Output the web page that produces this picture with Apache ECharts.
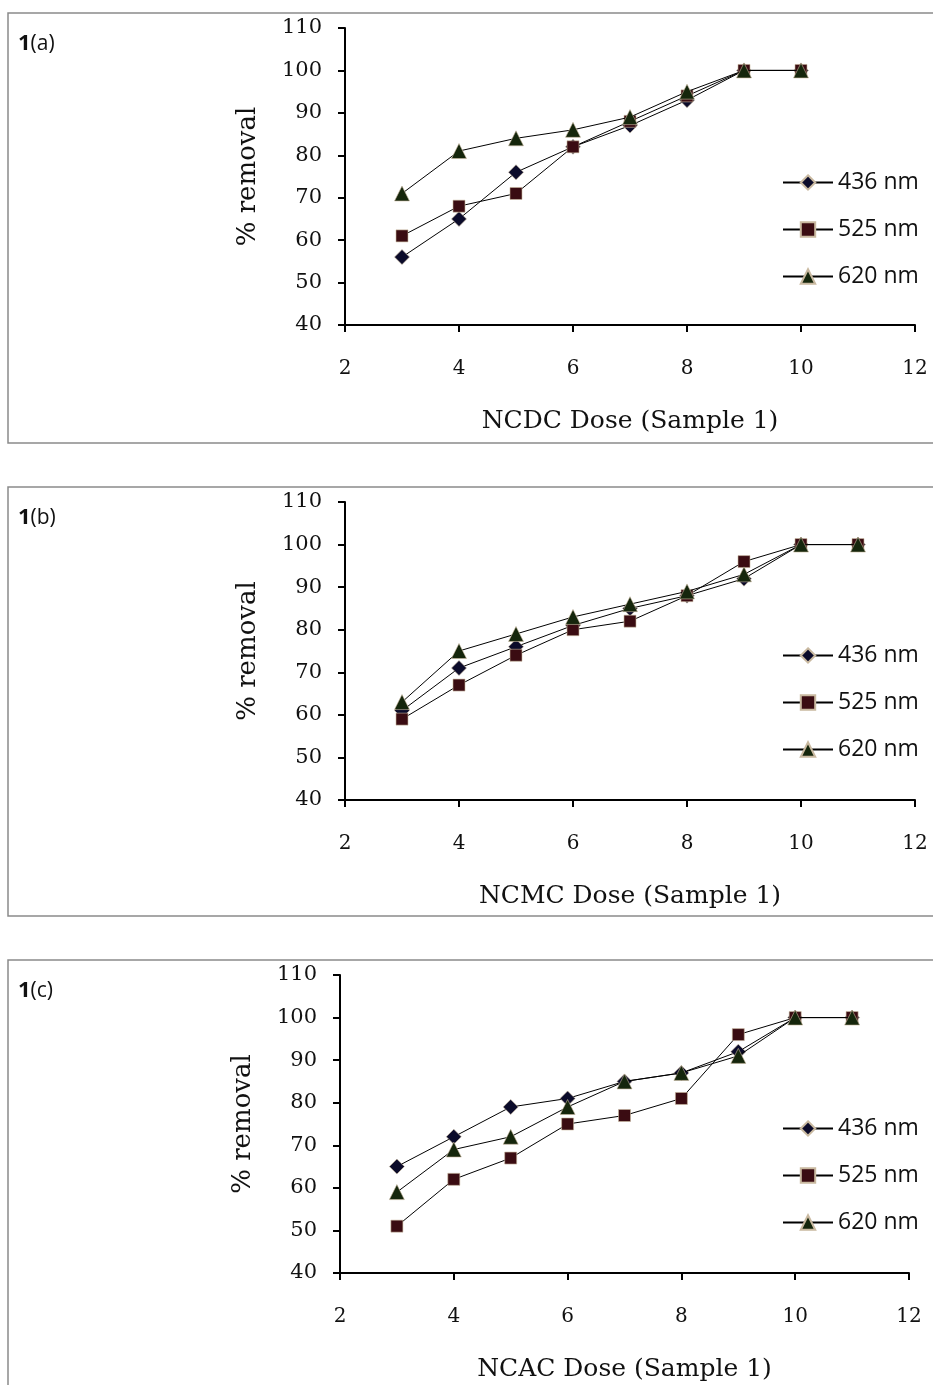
<!DOCTYPE html>
<html style="height: 100%">
<head>
<meta charset="utf-8">
</head>
<body style="height: 100%; margin: 0; background: #fff">
<div id="container" style="width: 933px; height: 1385px"></div>
<script src="https://cdn.jsdelivr.net/npm/echarts@6/dist/echarts.min.js"></script>
<script type="text/javascript">
// wavelengths shown in every panel
var waveNames = ['436 nm', '525 nm', '620 nm'];
var xTicks = [2, 4, 6, 8, 10, 12];

// 1(a) NCDC dose
var doseA = [3, 4, 5, 6, 7, 8, 9, 10];
var a436 = [56, 65, 76, 82, 87, 93, 100, 100];
var a525 = [61, 68, 71, 82, 88, 94, 100, 100];
var a620 = [71, 81, 84, 86, 89, 95, 100, 100];

// 1(b) NCMC dose
var doseB = [3, 4, 5, 6, 7, 8, 9, 10, 11];
var b436 = [61, 71, 76, 81, 85, 88, 92, 100, 100];
var b525 = [59, 67, 74, 80, 82, 88, 96, 100, 100];
var b620 = [63, 75, 79, 83, 86, 89, 93, 100, 100];

// 1(c) NCAC dose
var doseC = [3, 4, 5, 6, 7, 8, 9, 10, 11];
var c436 = [65, 72, 79, 81, 85, 87, 92, 100, 100];
var c525 = [51, 62, 67, 75, 77, 81, 96, 100, 100];
var c620 = [59, 69, 72, 79, 85, 87, 91, 100, 100];

var panels = [
    {label: 'a', xName: 'NCDC Dose (Sample 1)', dose: doseA, vals: [a436, a525, a620],
     grid: {left: 345, top: 28, width: 570, height: 297}, box: [8, 13, 430], legendTop: 171},
    {label: 'b', xName: 'NCMC Dose (Sample 1)', dose: doseB, vals: [b436, b525, b620],
     grid: {left: 345, top: 502, width: 570, height: 298}, box: [8, 487, 429], legendTop: 644},
    {label: 'c', xName: 'NCAC Dose (Sample 1)', dose: doseC, vals: [c436, c525, c620],
     grid: {left: 340, top: 975, width: 569, height: 298}, box: [8, 960, 440], legendTop: 1117}
];

var symbols = ['diamond', 'rect', 'triangle'];
var symbolSizes = [15, 12, 15];
var markColors = ['#0b0b2a', '#3a0c12', '#15260c'];

function pairs(xs, ys) {
    return xs.map(function (x, i) { return [x, ys[i]]; });
}

var dom = document.getElementById('container');
var myChart = echarts.init(dom);

var grids = [], xAxes = [], yAxes = [], series = [], legends = [], graphics = [];

panels.forEach(function (p, k) {
    grids.push(p.grid);
    xAxes.push({
        type: 'value', gridIndex: k, min: 2, max: 12, interval: 2,
        name: p.xName, nameLocation: 'middle', nameGap: 84,
        nameTextStyle: {fontFamily: 'DejaVu Serif', fontSize: 25, color: '#111'},
        axisLine: {lineStyle: {color: '#000', width: 2}},
        axisTick: {show: true, length: 7, lineStyle: {color: '#000', width: 2}},
        axisLabel: {margin: 34, fontFamily: 'DejaVu Serif', fontSize: 20, color: '#111',
            formatter: function (v) { return xTicks.indexOf(v) >= 0 ? String(v) : ''; }},
        splitLine: {show: false}
    });
    yAxes.push({
        type: 'value', gridIndex: k, min: 40, max: 110, interval: 10,
        name: '% removal', nameLocation: 'middle', nameGap: 84,
        nameTextStyle: {fontFamily: 'DejaVu Serif', fontSize: 26, color: '#111'},
        axisLine: {show: true, lineStyle: {color: '#000', width: 2}},
        axisTick: {show: true, length: 7, lineStyle: {color: '#000', width: 2}},
        axisLabel: {margin: 23, fontFamily: 'DejaVu Serif', fontSize: 21, color: '#111'},
        splitLine: {show: false}
    });
    p.vals.forEach(function (v, j) {
        series.push({
            name: waveNames[j], type: 'line', xAxisIndex: k, yAxisIndex: k,
            data: pairs(p.dose, v),
            symbol: symbols[j], symbolSize: symbolSizes[j], showAllSymbol: true,
            lineStyle: {color: '#000', width: 1},
            itemStyle: {color: markColors[j], borderColor: '#c9b9a0', borderWidth: 0.6},
            z: 2 + j, animation: false
        });
    });
    legends.push({
        orient: 'vertical', left: 782, top: p.legendTop, padding: 0,
        itemWidth: 50, itemHeight: 18, itemGap: 24,
        data: waveNames, selectedMode: false,
        textStyle: {fontFamily: 'Open Sans', fontSize: 23, color: '#111'}
    });
    graphics.push({
        type: 'rect', shape: {x: p.box[0], y: p.box[1], width: 1000, height: p.box[2]},
        style: {fill: 'none', stroke: '#8a8a8a', lineWidth: 1.5}, z: 0, silent: true
    });
    graphics.push({
        type: 'text', left: 18, top: p.box[1] + 20,
        style: {
            text: '{b|1}(' + p.label + ')',
            rich: {b: {fontFamily: 'Open Sans', fontWeight: 'bold', fontSize: 22, fill: '#111'}},
            fontFamily: 'Open Sans', fontSize: 21, fill: '#111'
        }
    });
});

var option = {
    backgroundColor: '#fff',
    animation: false,
    grid: grids,
    xAxis: xAxes,
    yAxis: yAxes,
    legend: legends,
    series: series,
    graphic: graphics
};

myChart.setOption(option);
</script>
</body>
</html>
